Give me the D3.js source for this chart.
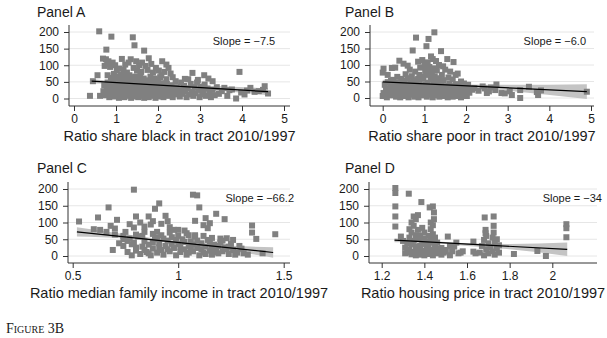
<!DOCTYPE html>
<html>
<head>
<meta charset="utf-8">
<script src="https://cdn.jsdelivr.net/npm/d3@7"></script>
<style>
  body { margin: 0; background: #fff; }
  text { font-family: "Liberation Sans", Arial, Helvetica, sans-serif; fill: #1a1a1a; }
</style>
</head>
<body>
<div id="chart"></div>
<script>
// Data (x = ratio 2010/1997, y = outcome)
var pointsA = [[0.60,202],[0.89,186],[1.40,184],[1.44,160],[0.77,147],[1.67,144],[0.69,120],[0.76,118],[0.82,112],[0.79,104],[0.73,98],[0.86,95],[0.92,108],[0.98,100],[1.14,119],[1.08,90],[1.22,102],[1.35,118],[1.30,108],[1.48,112],[1.55,100],[1.62,108],[1.78,121],[1.70,98],[1.84,104],[1.95,92],[2.10,112],[2.20,102],[2.25,92],[2.02,84],[2.15,80],[2.30,75],[1.02,84],[1.18,86],[1.26,78],[1.42,92],[1.50,84],[1.60,80],[1.75,86],[1.88,78],[2.08,70],[0.56,70],[0.80,70],[0.88,62],[0.95,74],[1.05,66],[1.12,72],[1.20,62],[1.32,70],[1.38,58],[1.46,66],[1.58,70],[1.66,60],[1.82,66],[1.92,60],[2.00,56],[2.20,58],[2.35,64],[2.42,52],[2.82,77],[3.10,70],[2.64,59],[3.94,80],[2.72,58],[2.95,56],[3.20,60],[3.30,52],[2.55,48],
  [0.38,8],[0.62,8],[0.45,52],[0.70,22],[0.72,40],[0.75,10],[0.78,32],[0.80,48],[0.82,18],[0.84,4],[0.86,38],[0.88,26],[0.90,12],[0.92,44],[0.94,30],[0.96,6],[0.98,20],[1.00,50],[1.01,36],[1.03,14],[1.05,28],[1.07,2],[1.08,42],[1.10,22],[1.12,54],[1.13,10],[1.15,34],[1.17,18],[1.19,46],[1.20,4],[1.22,30],[1.24,14],[1.26,40],[1.27,24],[1.29,52],[1.30,8],[1.32,36],[1.33,20],[1.35,46],[1.36,2],[1.38,28],[1.39,12],[1.41,40],[1.42,22],[1.44,52],[1.45,6],[1.47,32],[1.48,16],[1.50,44],[1.52,26],[1.53,4],[1.55,36],[1.57,14],[1.58,50],[1.60,22],[1.62,8],[1.63,40],[1.65,28],[1.67,2],[1.68,46],[1.70,18],[1.72,32],[1.73,10],[1.75,54],[1.77,24],[1.78,4],[1.80,38],[1.82,14],[1.84,48],[1.85,28],[1.87,8],[1.89,36],[1.90,20],[1.92,50],[1.94,2],[1.95,30],[1.97,12],[1.99,42],[2.01,24],[2.03,6],[2.05,34],[2.07,16],[2.09,46],[2.11,26],[2.13,4],[2.15,38],[2.17,12],[2.19,22],[2.21,44],[2.23,8],[2.26,30],[2.29,16],[2.32,40],[2.35,4],[2.38,24],[2.41,12],[2.44,34],[2.48,20],[2.52,6],[2.55,28],[2.58,14],[2.62,38],[2.65,22],[2.68,4],[2.71,30],[2.74,12],[2.78,44],[2.81,20],[2.84,8],[2.87,34],[2.90,16],[2.93,48],[2.96,26],[2.99,4],[3.02,36],[3.05,12],[3.08,24],[3.11,42],[3.14,8],[3.18,30],[3.22,16],[3.26,4],[3.30,26],[3.35,10],[3.40,34],[3.45,14],[3.52,22],[3.58,32],[3.65,8],[3.70,25],[3.76,27],[3.86,0],[3.98,18],[4.06,12],[4.12,24],[4.20,32],[4.30,20],[4.40,22],[4.50,26],[4.54,37],[4.62,15],
  [0.90,58],[1.00,62],[1.10,56],[1.25,60],[1.40,64],[1.55,58],[1.70,54],[1.85,58],[2.05,64],[1.15,6],[1.45,18],[1.75,14],[2.00,10],[2.25,20]];

var pointsB = [[1.24,199],[0.80,183],[1.10,179],[1.05,157],[0.72,144],[1.40,142],[1.16,126],[1.55,118],[1.70,109],[0.40,113],[0.22,91],[0.02,89],[0.00,77],[0.12,70],[0.30,92],[0.50,104],[0.60,98],[0.65,86],[0.85,110],[0.95,115],[1.00,100],[1.08,108],[1.20,118],[1.28,112],[1.35,100],[1.45,96],[1.50,86],[1.62,80],[1.75,70],[1.80,74],[0.90,92],[1.12,94],[0.78,80],[0.55,72],[0.35,64],[0.45,58],[0.70,66],[0.88,70],[1.02,82],[1.18,76],[1.30,84],[1.42,70],[1.58,62],[1.68,56],[1.88,50],[1.95,44],[2.05,40],[0.20,52],[0.28,40],
  [2.73,41],[2.70,24],[2.45,29],[2.30,22],[2.20,30],[2.55,20],[2.60,32],[2.85,15],[2.93,14],[3.10,9],[3.05,20],[3.30,24],[3.30,0],[3.51,34],[3.73,9],[3.80,23],[3.70,18],[4.90,19],[2.40,35],[2.15,25],[2.50,15],
  [0.00,6],[0.02,15],[0.05,40],[0.08,28],[0.10,2],[0.12,48],[0.15,18],[0.18,34],[0.20,8],[0.22,24],[0.25,55],[0.27,12],[0.30,38],[0.32,4],[0.34,26],[0.36,46],[0.38,16],[0.40,32],[0.42,2],[0.44,20],[0.46,44],[0.48,10],[0.50,30],[0.52,52],[0.54,6],[0.56,22],[0.58,38],[0.60,14],[0.62,2],[0.64,28],[0.66,48],[0.68,10],[0.70,34],[0.72,20],[0.74,54],[0.76,4],[0.78,26],[0.80,42],[0.82,14],[0.84,30],[0.86,2],[0.88,50],[0.90,20],[0.92,36],[0.94,8],[0.96,24],[0.98,58],[1.00,12],[1.02,40],[1.04,28],[1.06,4],[1.08,46],[1.10,18],[1.12,34],[1.14,10],[1.16,56],[1.18,26],[1.20,2],[1.22,42],[1.24,16],[1.26,32],[1.28,50],[1.30,8],[1.32,24],[1.34,38],[1.36,4],[1.38,20],[1.40,46],[1.42,12],[1.44,30],[1.46,54],[1.48,6],[1.50,22],[1.52,36],[1.54,14],[1.56,2],[1.58,28],[1.60,44],[1.62,10],[1.64,24],[1.66,36],[1.68,4],[1.70,18],[1.72,30],[1.74,12],[1.76,42],[1.78,22],[1.80,6],[1.82,34],[1.84,16],[1.86,28],[1.88,2],[1.90,20],[1.92,38],[1.94,10],[1.96,26],[1.98,14],[2.00,32],[2.02,6],[2.05,22],[2.08,16],[2.10,28],
  [0.95,64],[1.05,70],[1.15,62],[1.25,66],[1.35,60],[1.10,86],[1.22,90],[0.60,60],[0.85,58]];

var pointsC = [[0.79,198],[1.07,183],[1.09,181],[1.10,145],[0.91,157],[0.89,141],[0.67,145],[0.62,115],[0.53,103],[0.63,78],[0.71,108],[0.69,18],[0.80,118],[0.94,120],[0.86,118],[0.88,104],[0.87,94],[0.92,96],[1.13,113],[1.18,126],[1.22,110],[1.15,98],[1.14,83],[1.08,105],[1.35,91],[1.35,70],[1.37,51],[1.46,65],[1.40,8],[1.31,8],[1.24,28],[1.23,53],[1.26,48],[0.68,90],[0.70,82],[0.75,72],[0.77,95],[0.79,85],[0.82,100],[0.84,88],[0.96,86],[0.98,78],[1.00,78],[1.03,76],[1.05,62],[1.12,92],[0.95,104],[0.90,72],[0.83,60],[0.74,60],[0.76,45],[0.78,35],[0.80,25],
  [0.74,30],[0.76,12],[0.77,52],[0.78,2],[0.79,40],[0.80,16],[0.81,58],[0.82,6],[0.83,28],[0.84,44],[0.85,12],[0.86,34],[0.87,2],[0.88,22],[0.89,50],[0.90,10],[0.91,38],[0.92,18],[0.93,4],[0.94,30],[0.95,46],[0.96,14],[0.97,56],[0.98,24],[0.99,2],[1.00,36],[1.01,12],[1.02,50],[1.03,20],[1.04,4],[1.05,30],[1.06,44],[1.07,14],[1.08,58],[1.09,24],[1.10,2],[1.11,38],[1.12,10],[1.13,28],[1.14,48],[1.15,16],[1.16,4],[1.17,34],[1.18,22],[1.19,8],[1.20,40],[1.21,14],[1.22,26],[1.24,6],[1.26,18],[1.28,10],[1.30,22],[1.33,4],[0.80,64],[0.84,72],[0.88,66],[0.92,62],[0.96,70],[1.00,60],[1.04,68],[1.08,62],[1.12,60],[1.16,54],[1.20,52],[0.72,38],[0.74,50],[0.70,64],[0.66,72],[0.60,80],
  [0.86,8],[0.88,40],[0.91,26],[0.93,52],[0.95,20],[0.97,36],[0.99,48],[1.01,28],[1.03,42],[1.05,10],[1.07,34],[1.09,46],[1.11,20],[1.13,6],[1.15,40],[1.17,12],[1.19,30],[1.21,46],[1.23,20],[1.25,36],[1.27,4],[1.29,30],[0.84,18],[0.90,54],[1.06,24],[1.16,26]];

var pointsD = [[1.264,203],[1.264,188],[1.264,148],[1.264,118],[1.264,88],[1.327,186],[1.386,161],[1.29,58],[1.44,148],[1.445,130],[1.445,110],[1.43,100],[1.425,145],[1.51,58],[2.066,95],[2.066,83],[2.066,56],[1.683,115],[1.725,118],[1.725,90],[1.687,78],[1.687,68],[1.725,70],[1.82,6],[1.93,15],[1.97,0],[1.63,43],[1.63,13],[1.57,10],[1.54,28],[1.50,13],
  [1.33,20],[1.33,55],[1.33,80],[1.34,5],[1.34,35],[1.34,70],[1.34,100],[1.35,12],[1.35,45],[1.35,90],[1.35,118],[1.36,2],[1.36,28],[1.36,62],[1.36,110],[1.37,18],[1.37,50],[1.37,78],[1.37,122],[1.32,38],[1.32,10],[1.31,25],[1.30,45],[1.31,8],
  [1.38,4],[1.38,30],[1.38,60],[1.39,15],[1.39,48],[1.39,84],[1.40,2],[1.40,36],[1.40,70],[1.40,52],[1.41,10],[1.41,25],[1.41,42],
  [1.42,6],[1.42,32],[1.42,60],[1.43,18],[1.43,50],[1.43,80],[1.44,2],[1.44,40],[1.44,65],[1.44,92],[1.45,14],[1.45,28],[1.45,55],[1.46,8],[1.46,22],[1.46,40],
  [1.47,12],[1.48,4],[1.48,24],[1.49,10],[1.50,18],[1.52,2],[1.52,30],[1.53,14],[1.55,40],[1.56,8],[1.58,14],
  [1.66,10],[1.67,30],[1.68,2],[1.68,48],[1.69,20],[1.70,38],[1.70,8],[1.71,26],[1.72,55],[1.72,14],[1.73,4],[1.73,40],[1.74,22],[1.75,32],[1.75,10],[1.64,8],[1.69,60],[1.74,50]];

// Fitted line endpoints and confidence band rows [x, lo, hi]
var fitA = [[0.42,52.1],[4.62,20.6]];
var bandA = [[0.42,45,59],[1.0,44,52],[1.8,38,45],[3.0,28,39],[4.62,10,31]];
var fitB = [[0.0,49],[4.9,19.6]];
var bandB = [[0.0,43,55],[1.0,40,46],[2.0,33,41],[3.0,22,40],[4.9,-3,42]];
var fitC = [[0.52,72.1],[1.45,10.5]];
var bandC = [[0.52,58,86],[0.75,52,65],[1.0,36,44],[1.2,20,33],[1.45,-5,26]];
var fitD = [[1.26,47.2],[2.07,19.6]];
var bandD = [[1.26,41,53],[1.4,40,46],[1.6,30,38],[1.8,20,36],[2.07,0,40]];

var slopeLabels = ["Slope = \u22127.5", "Slope = \u22126.0", "Slope = \u221266.2", "Slope = \u221234"];
var panelTitles = ["Panel A", "Panel B", "Panel C", "Panel D"];
var axisTitles = ["Ratio share black in tract 2010/1997", "Ratio share poor in tract 2010/1997",
                  "Ratio median family income in tract 2010/1997", "Ratio housing price in tract 2010/1997"];
var xTicksAB = [0, 1, 2, 3, 4, 5];
var xTicksC = [0.5, 1, 1.5];
var xTicksD = [1.2, 1.4, 1.6, 1.8, 2];
var yTicks = [0, 50, 100, 150, 200];

var width = 607, height = 338;
var svg = d3.select("#chart").append("svg")
    .attr("width", width).attr("height", height);
svg.append("rect").attr("width", width).attr("height", height).attr("fill", "#fff");

// layout of each panel (pixels)
var panels = [
  {pts: pointsA, fit: fitA, band: bandA, xd: [0, 5], xr: [74, 284], ticks: xTicksAB,
   box: {l: 69, r: 290, t: 25, b: 106}, yr: [98.5, 32], title: [37, 17], slopeAt: [4.79, 160]},
  {pts: pointsB, fit: fitB, band: bandB, xd: [0, 5], xr: [382.7, 591], ticks: xTicksAB,
   box: {l: 370, r: 594, t: 25, b: 106}, yr: [98, 32], title: [345, 17], slopeAt: [4.88, 160]},
  {pts: pointsC, fit: fitC, band: bandC, xd: [0.5, 1.5], xr: [72.7, 283.7], ticks: xTicksC,
   box: {l: 68, r: 290, t: 182, b: 263}, yr: [256, 189], title: [37, 173], slopeAt: [1.549, 162]},
  {pts: pointsD, fit: fitD, band: bandD, xd: [1.2, 2.0], xr: [381.7, 552.3], ticks: xTicksD,
   box: {l: 369, r: 597, t: 182, b: 263}, yr: [256, 189], title: [345, 173], slopeAt: [2.233, 162]}
];

panels.forEach(function(p, i) {
  var x = d3.scaleLinear().domain(p.xd).range(p.xr);
  var y = d3.scaleLinear().domain([0, 200]).range(p.yr);
  var g = svg.append("g");

  // horizontal gridlines
  g.selectAll(".grid").data(yTicks).enter().append("line")
    .attr("x1", p.box.l).attr("x2", p.box.r)
    .attr("y1", d => y(d)).attr("y2", d => y(d))
    .attr("stroke", "#e6e6e6").attr("stroke-width", 1);

  // confidence band
  g.append("path").datum(p.band)
    .attr("d", d3.area().curve(d3.curveMonotoneX)
      .x(d => x(d[0])).y0(d => y(d[1])).y1(d => y(d[2])))
    .attr("fill", "#c4c4c4");

  // points
  g.selectAll(".pt").data(p.pts).enter().append("rect")
    .attr("x", d => x(d[0]) - 3).attr("y", d => y(d[1]) - 3)
    .attr("width", 6).attr("height", 6)
    .attr("fill", "#808080");

  // fitted line
  g.append("path").datum(p.fit)
    .attr("d", d3.line().x(d => x(d[0])).y(d => y(d[1])))
    .attr("stroke", "#000").attr("stroke-width", 1.2).attr("fill", "none");

  // axes
  var xAxis = g.append("g").attr("transform", "translate(0," + p.box.b + ")")
    .call(d3.axisBottom(x).tickValues(p.ticks).tickSize(5).tickPadding(3)
      .tickFormat(d3.format("~g")));
  var yAxis = g.append("g").attr("transform", "translate(" + p.box.l + ",0)")
    .call(d3.axisLeft(y).tickValues(yTicks).tickSize(5).tickPadding(5));
  [xAxis, yAxis].forEach(function(a) {
    a.select(".domain").remove();
    a.selectAll("line").attr("stroke", "#333");
    a.selectAll("text").style("font-size", "12px")
      .style("font-family", "'Liberation Sans', Arial, sans-serif").attr("fill", "#1a1a1a");
  });
  g.append("line").attr("x1", p.box.l).attr("x2", p.box.r)
    .attr("y1", p.box.b).attr("y2", p.box.b).attr("stroke", "#333");
  g.append("line").attr("x1", p.box.l).attr("x2", p.box.l)
    .attr("y1", p.box.t).attr("y2", p.box.b).attr("stroke", "#333");

  // texts
  g.append("text").attr("x", p.title[0]).attr("y", p.title[1])
    .style("font-size", "14px").text(panelTitles[i]);
  g.append("text").attr("x", (p.box.l + p.box.r) / 2).attr("y", p.box.b + 35)
    .attr("text-anchor", "middle").style("font-size", "14.5px").text(axisTitles[i]);
  g.append("text").attr("x", x(p.slopeAt[0])).attr("y", y(p.slopeAt[1]))
    .attr("text-anchor", "end").style("font-size", "11px")
    .attr("xml:space", "preserve").text(slopeLabels[i]);
});

svg.append("text").attr("x", 6).attr("y", 333)
  .style("font-family", "'Liberation Serif', 'Times New Roman', serif")
  .style("font-size", "14px").style("font-variant", "small-caps")
  .text("Figure 3B");
</script>
</body>
</html>
